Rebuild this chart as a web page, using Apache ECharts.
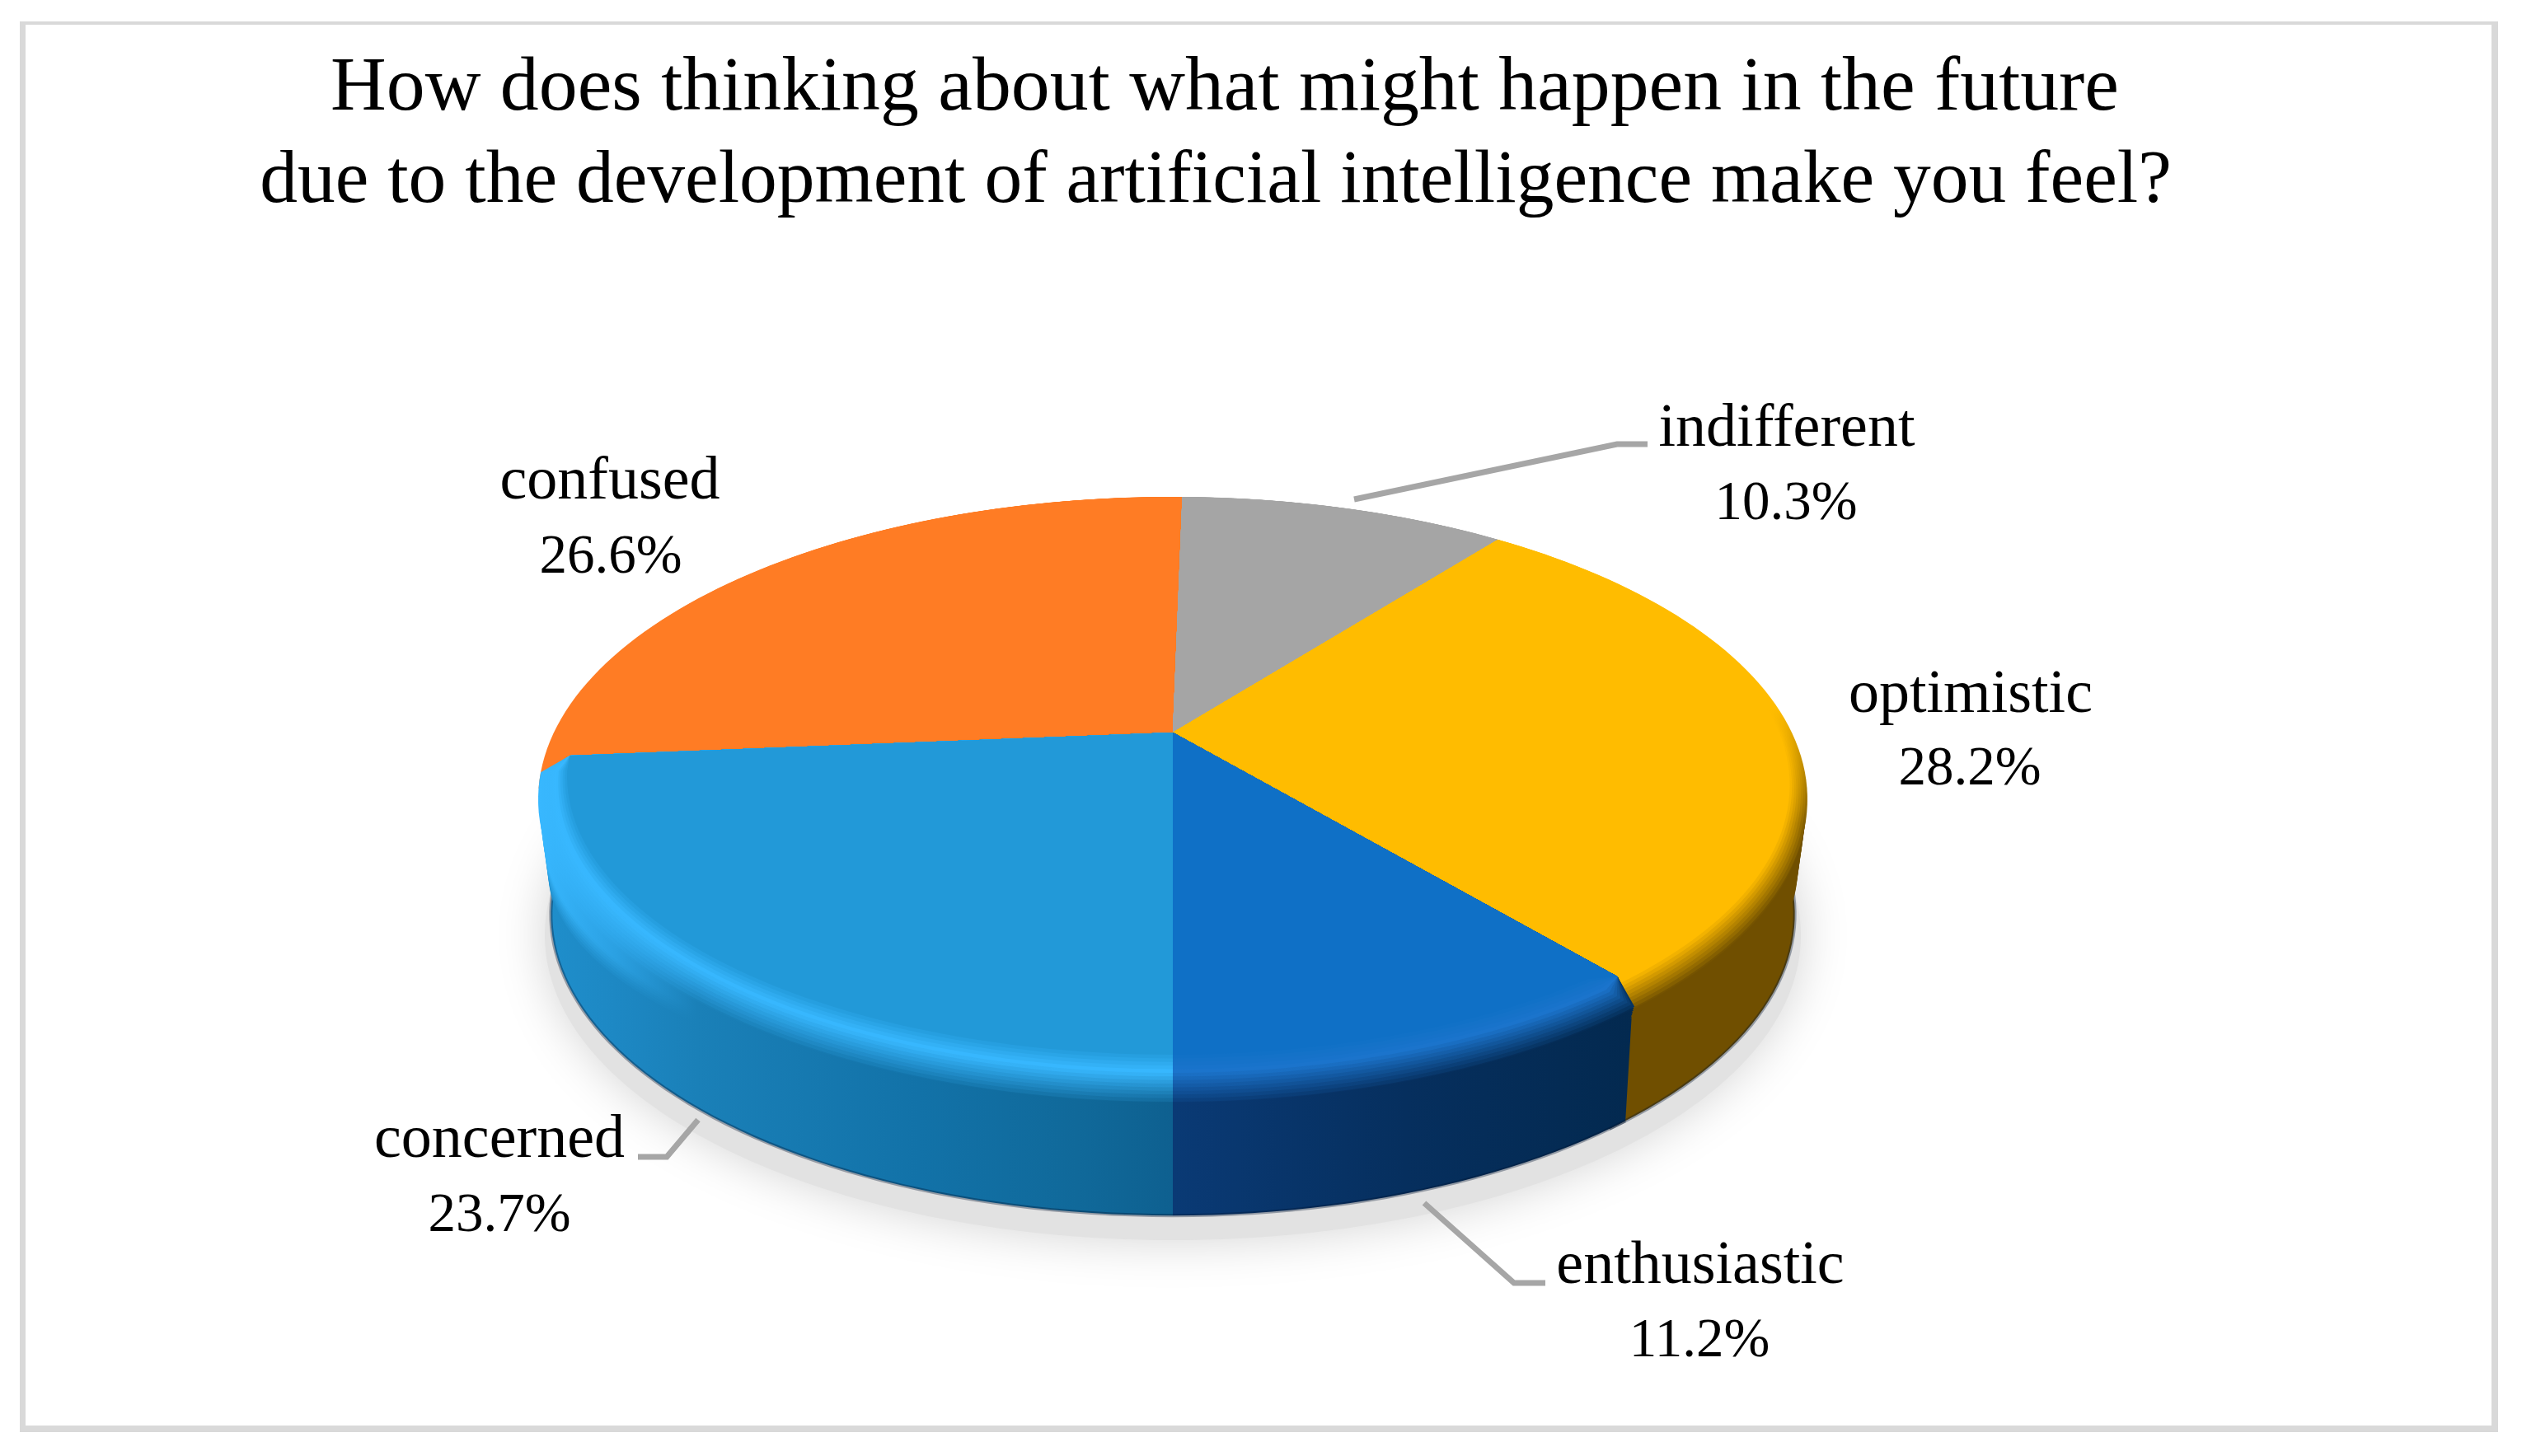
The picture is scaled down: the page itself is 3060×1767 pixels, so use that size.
<!DOCTYPE html>
<html><head><meta charset="utf-8">
<style>html,body{margin:0;padding:0;background:#fff}#c{width:3060px;height:1767px}</style>
<script src="https://cdn.jsdelivr.net/npm/echarts@6/dist/echarts.min.js"></script>
</head><body><div id="c"></div>
<script>
// ---- data ----
const titleLines = ['How does thinking about what might happen in the future',
                    'due to the development of artificial intelligence make you feel?'];
const categories = ['indifferent','optimistic','enthusiastic','concerned','confused'];
const values = [10.3, 28.2, 11.2, 23.7, 26.6];
const valueLabels = ['10.3%','28.2%','11.2%','23.7%','26.6%'];
// ---- styles and layout ----
const faceColors = ['#A5A5A5','#FFBC00','#0F70C6','#2299D8','#FF7C24'];
const hiColors   = ['#A5A5A5','#FFBC00','#1B74CC','#38B8FF','#FF7C24'];
const wallStops  = [
  [[0,'#A5A5A5'],[1,'#A5A5A5']],
  [[0,'#704F00'],[1,'#704F00']],
  [[0,'#0A3A75'],[0.5,'#062F5E'],[1,'#03294F']],
  [[0,'#1F8FCC'],[0.12,'#1D88C4'],[0.25,'#1A80B8'],[0.6,'#1272A8'],[0.85,'#10699A'],[1,'#0E6090']],
  [[0,'#FF7C24'],[1,'#FF7C24']]
];
const wallRange = [[1423,2193],[1423,2193],[1423,1990],[653,1423],[653,1423]];
const hasWall = [false,true,true,true,false];
const paintOrder = [4,0,1,2,3];
const extendStart = [0,0,0,0,-6];
const extendEnd   = [0,4,0,0,0];
const cutStart = [null,null,{deg:2.2,f:0.925},null,null];
const cutEnd   = [null,null,null,{deg:3,f:0.96},null];
const labelPos = [[2168,522,2167,612],[2391,845,2390,934],[2063,1538,2062,1628],[606,1385,606,1476],[740,586,741,677]];
const leaders = [
  [[1643,606],[1962,539],[1999,539]],
  [[1728,1460],[1837,1557],[1875,1557]],
  [[847,1359],[809,1404],[774,1404]]
];
const frameRects = [[24,26,7,1712],[24,26,3007,4],[3023,26,8,1712],[24,1730,3007,8]];
const FONT = '"Liberation Serif"';
const TITLE_SIZES = [93.8,91.5], LABEL_SIZE = 74, VALUE_SIZE = 67;
const PIE = {cx:1423, apexY:889, k:0.219, p:350, q:751, a:770, cy:970, b:367, rot:1.08};
const BOTTOM = {a:755, cy:1110, b:365};
const LAYERS = 26;

// ---- geometry helpers ----
const total = values.reduce((s,v)=>s+v,0);
const cumStart = []; { let c=0; values.forEach((v,i)=>{cumStart[i]=c; c+=v;}); }
const rad = d=>d*Math.PI/180;
function basePoint(deg){
  const th=rad(deg), w=1+PIE.k*Math.cos(th);
  return [PIE.cx+PIE.q*Math.sin(th)/w, PIE.apexY-PIE.p*Math.cos(th)/w];
}
function lerp(a,b,f){return a+(b-a)*f;}
function ellipseAt(t){
  const E0=[1060,758,285],E1=[970,770,367],E2=[942,735,338];
  const A=t<0.5?E0:E1,B=t<0.5?E1:E2,f=t<0.5?t/0.5:(t-0.5)/0.5;
  return {cy:lerp(A[0],B[0],f),a:lerp(A[1],B[1],f),b:lerp(A[2],B[2],f)};
}
function pointOn(deg,t){
  const E=ellipseAt(t),P=basePoint(deg);
  if(t<0.5){
    const u=(P[0]-PIE.cx)/PIE.a,v=(P[1]-PIE.cy)/PIE.b;
    return [PIE.cx+E.a*u,E.cy+E.b*v];
  }
  const dx=P[0]-PIE.cx,dy=P[1]-PIE.apexY,oy=PIE.apexY-E.cy;
  const A=dx*dx/(E.a*E.a)+dy*dy/(E.b*E.b),B=2*oy*dy/(E.b*E.b),C=oy*oy/(E.b*E.b)-1;
  const s=(-B+Math.sqrt(B*B-4*A*C))/(2*A);
  return [PIE.cx+s*dx,PIE.apexY+s*dy];
}
function bottomPoint(deg){
  const P=basePoint(deg),u=(P[0]-PIE.cx)/PIE.a,v=(P[1]-PIE.cy)/PIE.b;
  return [PIE.cx+BOTTOM.a*u,BOTTOM.cy+BOTTOM.b*v];
}
function sliceRange(i){
  return [cumStart[i]/total*360+PIE.rot+extendStart[i],(cumStart[i]+values[i])/total*360+PIE.rot+extendEnd[i]];
}
function arcAngles(i){
  let [s,e]=sliceRange(i);
  if(cutStart[i])s+=cutStart[i].deg;
  if(cutEnd[i])e-=cutEnd[i].deg;
  const out=[],n=Math.max(4,Math.ceil((e-s)/1.5));
  for(let j=0;j<=n;j++)out.push(s+(e-s)*j/n);
  return out;
}
function hex(c){return [1,3,5].map(o=>parseInt(c.substr(o,2),16));}
function mix(a,b,f){const A=hex(a),B=hex(b);return '#'+A.map((x,n)=>Math.round(lerp(x,B[n],f)).toString(16).padStart(2,'0')).join('');}
function centerProfile(t,wall,hi,face){
  if(t>=0.8)return mix(hi,face,(t-0.8)/0.2);
  if(t>=0.45)return mix(wall,hi,(t-0.45)/0.35);
  return wall;
}
function litProfile(t,wall,hi,face){
  if(t>=0.8)return mix(hi,face,(t-0.8)/0.2);
  if(t>=0.25)return hi;
  return mix(wall,hi,t/0.25);
}
function layerFill(i,t){
  const r=wallRange[i],stops=wallStops[i];
  if(i===1){
    const c=centerProfile(t,stops[0][1],hiColors[i],faceColors[i]);
    return new echarts.graphic.LinearGradient(0,860,0,1000,[{offset:0,color:faceColors[i]},{offset:1,color:c}],true);
  }
  const lit=(i===3);
  const cs=stops.map(([pos,w])=>{
    const c=centerProfile(t,w,hiColors[i],faceColors[i]);
    if(!lit)return {offset:pos,color:c};
    const l=litProfile(t,w,hiColors[i],faceColors[i]);
    return {offset:pos,color:mix(l,c,Math.min(1,pos/0.25))};
  });
  return new echarts.graphic.LinearGradient(r[0],0,r[1],0,cs,true);
}
function wallFill(i){
  const r=wallRange[i];
  return new echarts.graphic.LinearGradient(r[0],0,r[1],0,wallStops[i].map(([o,c])=>({offset:o,color:c})),true);
}
function renderSlice(params,api){
  const i=api.value(0),angles=arcAngles(i),children=[];
  const range=sliceRange(i);
  if(hasWall[i]){
    const top=angles.map(d=>pointOn(d,0.3)),botF=angles.map(bottomPoint);
    children.push({type:'polygon',shape:{points:top.concat(botF.slice().reverse())},style:{fill:wallFill(i)}});
    children.push({type:'polyline',shape:{points:botF},style:{fill:'none',stroke:'rgba(0,20,50,0.35)',lineWidth:4}});
  }
  const cutP=(deg,f)=>{const P=basePoint(deg);return [PIE.cx+f*(P[0]-PIE.cx),PIE.apexY+f*(P[1]-PIE.apexY)];};
  for(let l=0;l<=LAYERS;l++){
    const t=l/LAYERS;
    let pts=angles.map(d=>pointOn(d,t));
    if(cutStart[i])pts.unshift(cutP(range[0],cutStart[i].f));
    if(cutEnd[i])pts.push(cutP(range[1],cutEnd[i].f));
    pts=[[PIE.cx,PIE.apexY]].concat(pts);
    children.push({type:'polygon',shape:{points:pts},style:{fill:layerFill(i,t)}});
  }
  return {type:'group',children};
}
function renderShadow(){
  return {type:'ellipse',shape:{cx:1423,cy:1135,rx:762,ry:370},
    style:{fill:'#e2e2e2',shadowBlur:60,shadowColor:'#d4d4d4'}};
}
function renderLabel(params,api){
  const i=api.value(0),p=labelPos[i];
  return {type:'group',children:[
    {type:'text',style:{text:categories[i],x:p[0],y:p[1],align:'center',verticalAlign:'middle',font:`${LABEL_SIZE}px ${FONT}`,fill:'#000'}},
    {type:'text',style:{text:valueLabels[i],x:p[2],y:p[3],align:'center',verticalAlign:'middle',font:`${VALUE_SIZE}px ${FONT}`,fill:'#000'}}
  ]};
}
const chart=echarts.init(document.getElementById('c'),null,{renderer:'canvas',width:3060,height:1767});
chart.setOption({
  animation:false,
  backgroundColor:'#fff',
  title:[
    {text:titleLines[0],left:1481,top:103,textAlign:'center',textVerticalAlign:'middle',textStyle:{fontFamily:FONT,fontSize:TITLE_SIZES[0],fontWeight:'normal',color:'#000'}},
    {text:titleLines[1],left:1470,top:216,textAlign:'center',textVerticalAlign:'middle',textStyle:{fontFamily:FONT,fontSize:TITLE_SIZES[1],fontWeight:'normal',color:'#000'}}
  ],
  graphic:[
    ...frameRects.map(r=>({type:'rect',shape:{x:r[0],y:r[1],width:r[2],height:r[3]},style:{fill:'#d9d9d9'},z:-1})),
    ...leaders.map(pts=>({type:'polyline',shape:{points:pts},style:{fill:'none',stroke:'#a6a6a6',lineWidth:7},z:20}))
  ],
  series:[
    {type:'custom',coordinateSystem:'none',silent:true,data:[0],renderItem:renderShadow,z:1},
    {type:'custom',coordinateSystem:'none',silent:true,data:paintOrder,renderItem:renderSlice,z:2},
    {type:'custom',coordinateSystem:'none',silent:true,data:[0,1,2,3,4],renderItem:renderLabel,z:3}
  ]
});
</script></body></html>
